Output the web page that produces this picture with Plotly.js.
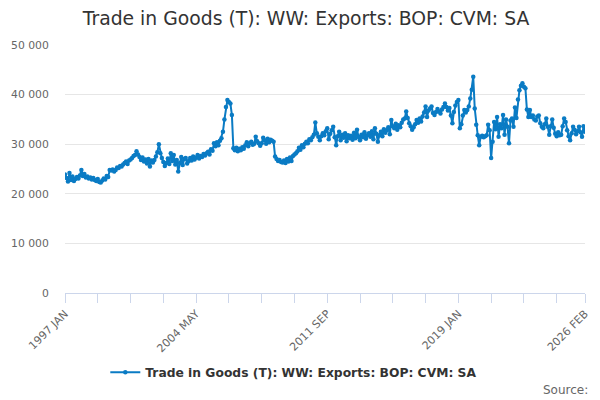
<!DOCTYPE html>
<html>
<head>
<meta charset="utf-8">
<script src="https://cdn.plot.ly/plotly-3.0.1.min.js"></script>
<style>html,body{margin:0;padding:0;background:#fff;}#chart{width:600px;height:400px;}</style>
</head>
<body>
<div id="chart"></div>
<script>
var seriesName = "Trade in Goods (T): WW: Exports: BOP: CVM: SA";
var monthNames = ["JAN","FEB","MAR","APR","MAY","JUN","JUL","AUG","SEP","OCT","NOV","DEC"];
var startYear = 1997;
var tickLabelsShown = ["1997 JAN","2004 MAY","2011 SEP","2019 JAN","2026 FEB"];

var v1997 = [23900,23200,22500,24200,22800,23500,22600,23000,23400,23100,23700,24800];
var v1998 = [23600,24000,23300,23500,23100,23300,22900,23200,22800,22600,23000,22400];
var v1999 = [22300,22700,23100,22900,23600,23400,24800,24700,24900,24500,24800,25300];
var v2000 = [25200,25600,25500,25900,26200,26500,26000,26700,26900,27200,27600,27800];
var v2001 = [28600,27900,27400,26800,27300,26500,26900,26100,27000,25500,26700,26300];
var v2002 = [26800,27500,28400,30000,28200,27200,26400,25600,26200,27100,26000,28200];
var v2003 = [26600,27800,25900,26800,24500,26200,27400,25800,27000,27200,26100,26600];
var v2004 = [27200,26700,27500,26900,27300,27800,27100,27600,27400,28000,27700,28200];
var v2005 = [28500,27900,29000,28700,30200,29600,30400,29800,30700,31200,32500,35000];
var v2006 = [37500,38900,38500,38200,35900,29200,28800,29300,28600,29100,28800,29400];
var v2007 = [29100,29800,30400,29600,30200,30500,29900,30100,31500,30600,30200,29700];
var v2008 = [30200,31300,30800,30100,31100,30400,30900,30700,30500,27500,27000,26600];
var v2009 = [26800,26400,26300,26700,26200,27000,26500,27300,26600,27600,27900,28200];
var v2010 = [28600,29300,28900,29800,29400,30100,30500,30200,31000,30800,31400,31900];
var v2011 = [34400,32200,31500,30800,31600,32200,31800,32600,33200,31000,32100,32800];
var v2012 = [33500,31400,29800,31600,32500,30800,31900,31300,32200,30600,31800,31200];
var v2013 = [31700,30900,32300,31200,32900,31500,30800,31900,31400,32400,31100,31800];
var v2014 = [32200,31500,32600,31000,33200,32100,30500,31800,32500,31600,33000,32300];
var v2015 = [32800,33400,32000,34900,33600,33200,34100,32900,33800,33400,34300,35000];
var v2016 = [35200,36600,35300,34200,33600,32900,33400,34000,34900,34300,35200,34600];
var v2017 = [35600,36400,37600,35500,36800,37200,37600,36300,35900,36500,37100,36600];
var v2018 = [36200,37000,37500,38200,37500,36800,37300,35800,34200,36500,37800,38500];
var v2019 = [38900,33200,34000,35800,36900,36400,36900,37600,39200,41000,43600,37200];
var v2020 = [33900,31800,29800,31500,31700,31400,31600,31800,33900,32800,27200,30500];
var v2021 = [34500,33000,35500,31500,34000,33200,35900,31900,35000,33500,30200,34800];
var v2022 = [35200,33500,37400,35300,39000,40900,41800,42300,41600,41300,37000,35500];
var v2023 = [36900,35500,35800,35000,34800,35600,35800,34200,33500,33200,34000,35200];
var v2024 = [33500,31900,33600,35000,33300,32100,31600,32400,31800,31900,33600,35200];
var v2025 = [34500,32800,31600,30800,32200,33500,32900,32000,32600,33500,32400,31500];
var v2026 = [33600,32500];

var values = [].concat(v1997,v1998,v1999,v2000,v2001,v2002,v2003,v2004,v2005,v2006,
  v2007,v2008,v2009,v2010,v2011,v2012,v2013,v2014,v2015,v2016,v2017,v2018,v2019,
  v2020,v2021,v2022,v2023,v2024,v2025,v2026);

var categories = [];
for (var i = 0; i < values.length; i++) {
  categories.push((startYear + Math.floor(i/12)) + " " + monthNames[i%12]);
}

// tick marks every 22 months plus the last month; labels only on listed ones
var tickvals = [], ticktext = [];
for (var k = 0; k < categories.length; k += 22) tickvals.push(categories[k]);
if (tickvals[tickvals.length-1] !== categories[categories.length-1]) tickvals.push(categories[categories.length-1]);
tickvals.forEach(function(c){ ticktext.push(tickLabelsShown.indexOf(c) >= 0 ? c : ""); });

var FONT = "DejaVu Sans, Verdana, sans-serif";
var trace = {
  x: categories, y: values, type: "scatter", mode: "lines+markers",
  name: seriesName,
  line: {color: "#0a7bc4", width: 2},
  marker: {color: "#0a7bc4", size: 4.5}
};
var layout = {
  width: 600, height: 400,
  margin: {l: 65, r: 15, t: 45, b: 107},
  paper_bgcolor: "#fff", plot_bgcolor: "#fff",
  separators: ". ",
  font: {family: FONT, color: "#666", size: 11},
  title: {text: seriesName, x: 0.51, xanchor: "center", y: 0.955, yanchor: "middle",
          font: {family: FONT, size: 18.8, color: "#333"}},
  xaxis: {
    type: "category", tickmode: "array", tickvals: tickvals, ticktext: ticktext,
    tickangle: -45, ticks: "outside", ticklen: 9, tickcolor: "#ccd6eb", tickwidth: 1,
    showline: true, linecolor: "#ccd6eb", linewidth: 1, showgrid: false,
    range: [0, categories.length - 1],
    tickfont: {family: FONT, size: 11, color: "#666"}
  },
  yaxis: {
    range: [0, 50000], tickvals: [0,10000,20000,30000,40000,50000], tickformat: ",d",
    showgrid: true, gridcolor: "#e6e6e6", gridwidth: 1, zeroline: false, showline: false,
    ticks: "outside", ticklen: 13, tickcolor: "rgba(0,0,0,0)",
    tickfont: {family: FONT, size: 10.8, color: "#666"}
  },
  showlegend: true,
  legend: {orientation: "h", x: 0.44, xanchor: "center", y: -0.32, yanchor: "middle",
           itemwidth: 30,
           font: {family: FONT, size: 12.3, color: "#333", weight: "bold"}},
  annotations: [{text: "Source:", xref: "paper", yref: "paper", x: 1.01, xanchor: "right",
                 y: -0.39, yanchor: "middle", showarrow: false,
                 font: {family: FONT, size: 12, color: "#666"}}]
};
Plotly.newPlot("chart", [trace], layout, {displayModeBar: false, staticPlot: true});
</script>
</body>
</html>
